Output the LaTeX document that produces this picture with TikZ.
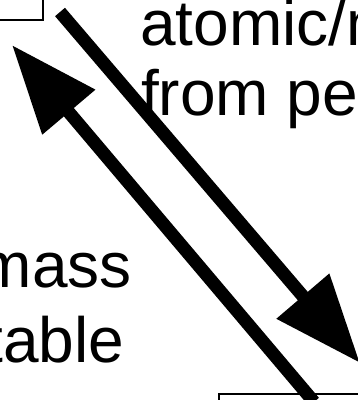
\documentclass[tikz,border=0pt]{standalone}
\usepackage{fontspec}
\setmainfont{Liberation Sans}
\usetikzlibrary{arrows.meta}
\tikzset{
  box/.style={draw=black, line width=1.4pt, fill=white},
  bigarrow/.style={line width=13pt, line cap=butt, -{Triangle[length=88pt,width=66pt]}},
  lbl/.style={inner sep=0pt, font=\fontsize{64}{70}\selectfont}
}
\begin{document}
\begin{tikzpicture}[x=1pt,y=-1pt]
\useasboundingbox (0,0) rectangle (358,400);
\clip (0,0) rectangle (358,400);
% boxes (mostly outside the view)
\draw[box] (-60,-60) rectangle (43,20);
\draw[box] (219,394) rectangle (420,460);
% labels
\node[lbl, anchor=base west] (t1) at (140,45) {atomic/m};
\node[lbl, anchor=base west] (t2) at (141,115) {from pe};
\node[lbl, anchor=base east] (l1) at (132,287) {mass};
\node[lbl, anchor=base east] (l2) at (124.5,362) {table};
% arrow end points
\coordinate (downStart) at (60,12);
\coordinate (downTip) at (360,363);
\coordinate (upStart) at (314,402);
\coordinate (upTip) at (12,45);
\draw[bigarrow] (downStart) -- (downTip);
\draw[bigarrow] (upStart) -- (upTip);
\end{tikzpicture}
\end{document}
